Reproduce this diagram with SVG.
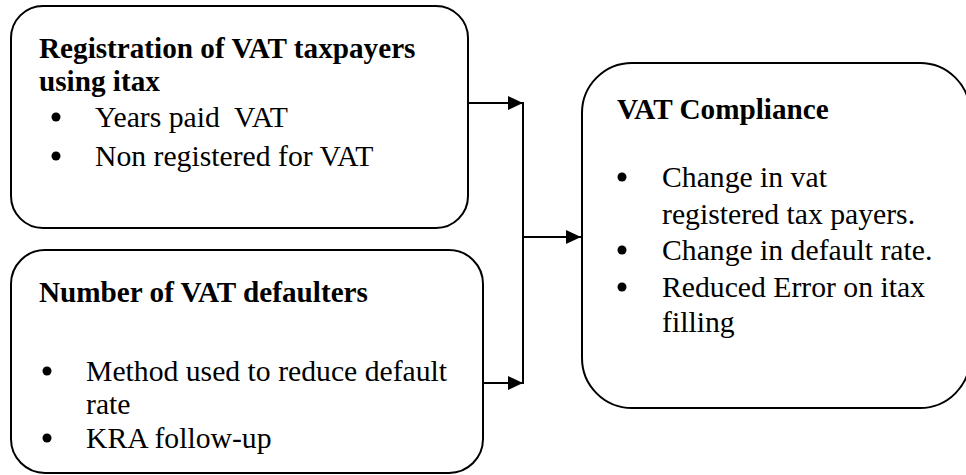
<svg xmlns="http://www.w3.org/2000/svg" width="966" height="475" viewBox="0 0 966 475">
<style>
.box{fill:#fff;stroke:#000;stroke-width:2}
.t{font-size:29.7px;fill:#000}
.b{font-weight:bold;font-size:29.2px}
.dot{fill:#000}
.ln{stroke:#000;stroke-width:2;fill:none}
</style>
<defs>
<marker id="ah" markerUnits="userSpaceOnUse" markerWidth="16" markerHeight="16" refX="15" refY="7" orient="auto">
<path d="M0,0 L15,7 L0,14 Z" fill="#000"/>
</marker>
</defs>
<rect width="966" height="475" fill="#fff"/>
<g id="connectors">
<line class="ln" x1="468" y1="103" x2="523" y2="103" marker-end="url(#ah)"/>
<line class="ln" x1="483" y1="383" x2="523" y2="383" marker-end="url(#ah)"/>
<line class="ln" x1="523" y1="102" x2="523" y2="384"/>
<line class="ln" x1="523" y1="237" x2="581" y2="237" marker-end="url(#ah)"/>
</g>
<g font-family="Liberation Serif, Tinos, Times New Roman, serif">
<g id="registration">
<rect class="box" x="11" y="6" width="457" height="222" rx="32" ry="32"/>
<text class="t b" x="39" y="58">Registration of VAT taxpayers</text>
<text class="t b" x="39" y="91">using itax</text>
<circle class="dot" cx="56" cy="117" r="4.5"/>
<text class="t" x="95" y="127">Years paid&#160; VAT</text>
<circle class="dot" cx="56" cy="156" r="4.5"/>
<text class="t" x="95" y="166">Non registered for VAT</text>
</g>
<g id="defaulters">
<rect class="box" x="11" y="250" width="472" height="223" rx="34" ry="34"/>
<text class="t b" x="39" y="302">Number of VAT defaulters</text>
<circle class="dot" cx="47" cy="371" r="4.5"/>
<text class="t" x="86" y="381">Method used to reduce default</text>
<text class="t" x="86" y="414">rate</text>
<circle class="dot" cx="47" cy="438" r="4.5"/>
<text class="t" x="86" y="448">KRA follow-up</text>
</g>
<g id="compliance">
<rect class="box" x="582" y="63" width="388" height="345" rx="50" ry="50"/>
<text class="t b" x="617" y="119">VAT Compliance</text>
<circle class="dot" cx="622" cy="177" r="4.5"/>
<text class="t" x="662" y="187">Change in vat</text>
<text class="t" x="662" y="224">registered tax payers.</text>
<circle class="dot" cx="622" cy="250" r="4.5"/>
<text class="t" x="662" y="260">Change in default rate.</text>
<circle class="dot" cx="622" cy="287" r="4.5"/>
<text class="t" x="662" y="297">Reduced Error on itax</text>
<text class="t" x="662" y="332">filling</text>
</g>
</g>
</svg>
